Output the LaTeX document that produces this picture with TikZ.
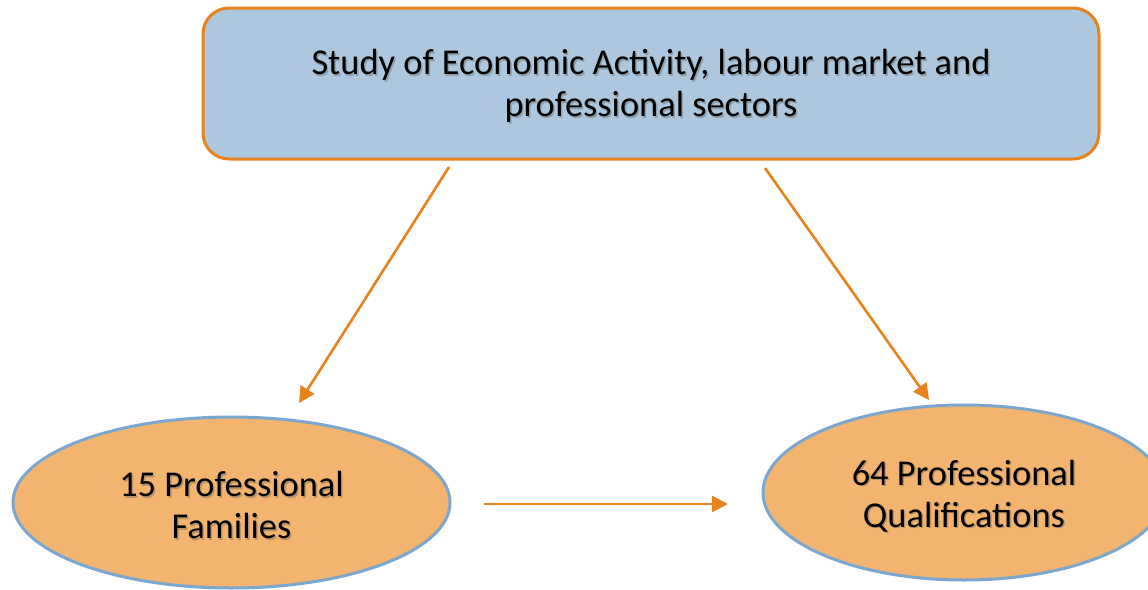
\documentclass[tikz,border=0pt]{standalone}
\usepackage{fontspec}
\setmainfont{Carlito}
\usetikzlibrary{arrows.meta,shapes.geometric}
\definecolor{boxblue}{HTML}{ADC8DE}
\definecolor{edgeorange}{HTML}{E8821E}
\definecolor{ellfill}{HTML}{F2B46E}
\definecolor{ellblue}{HTML}{7BA7CF}
\definecolor{shadowgray}{HTML}{555555}
\tikzset{
  topbox/.style={draw=edgeorange, fill=boxblue, line width=3pt, rounded corners=26pt,
    minimum width=896pt, minimum height=151pt, inner sep=0pt},
  oval/.style={ellipse, draw=ellblue, fill=ellfill, line width=3pt, inner sep=0pt},
  label/.style={align=center, font=\fontsize{36.4}{42}\selectfont, text=black, inner sep=0pt},
  shadowtext/.style={label, text=shadowgray, opacity=0.35},
  flow/.style={draw=edgeorange, line width=2.6pt, -{Triangle[length=16pt,width=16pt]}}
}
\begin{document}
\begin{tikzpicture}[x=1pt,y=-1pt]
\useasboundingbox (0,0) rectangle (1148,589);
\clip (0,0) rectangle (1148,589);
\fill[white] (0,0) rectangle (1148,589);
% top box
\node[topbox] (top) at (651,83.5) {};
\node[shadowtext] (topshadow) at (652.5,87.5) {Study of Economic Activity, labour market and\\professional sectors};
\node[label] (toptext) at (651,86) {Study of Economic Activity, labour market and\\professional sectors};
% ellipses
\node[oval, minimum width=437pt, minimum height=171pt] (fam) at (231.5,502.5) {};
\node[shadowtext] (famshadow) at (233,506.5) {15 Professional\\Families};
\node[label] (famtext) at (231.5,505) {15 Professional\\Families};
\node[oval, minimum width=402pt, minimum height=175pt] (qual) at (964,492.5) {};
\node[shadowtext] (qualshadow) at (965.5,497.5) {64 Professional\\Qualifications};
\node[label] (qualtext) at (964,496) {64 Professional\\Qualifications};
% connector ends
\coordinate (s1) at (449,167);
\coordinate (e1) at (299,403);
\coordinate (s2) at (765,168);
\coordinate (e2) at (929,400);
\coordinate (s3) at (484,504);
\coordinate (e3) at (728,504);
\draw[flow] (s1) -- (e1);
\draw[flow] (s2) -- (e2);
\draw[flow] (s3) -- (e3);
\end{tikzpicture}
\end{document}
